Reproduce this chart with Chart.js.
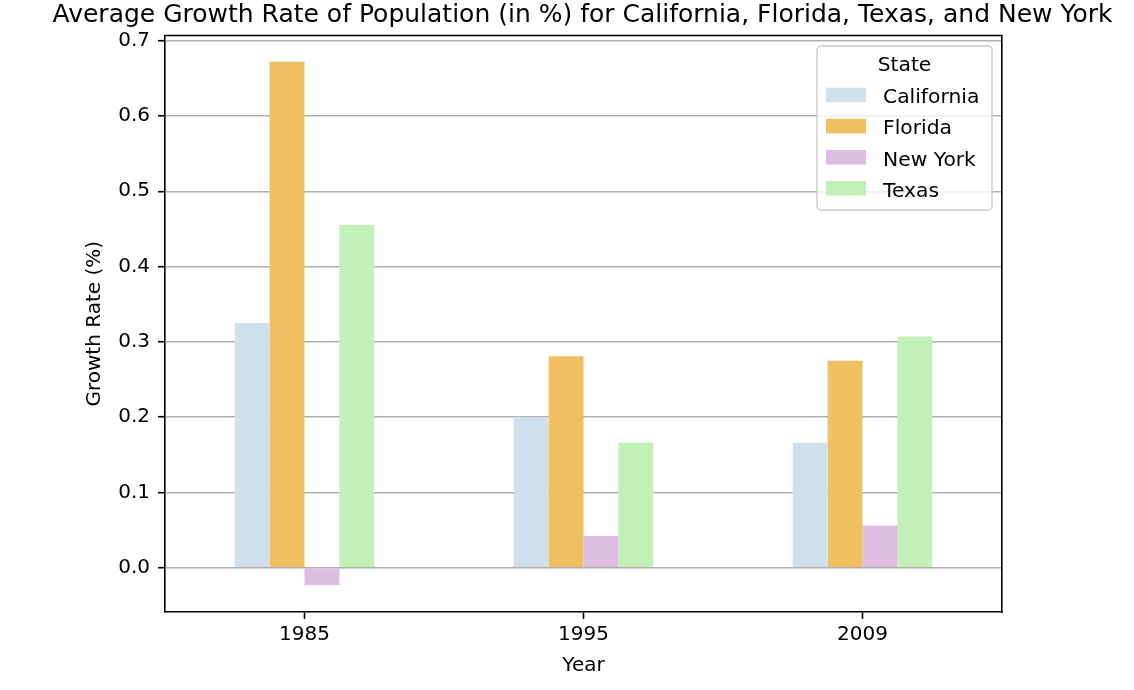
<!DOCTYPE html>
<html>
<head>
<meta charset="utf-8">
<script src="https://cdn.jsdelivr.net/npm/chart.js@4.4.0/dist/chart.umd.min.js"></script>
<style>
html,body{margin:0;padding:0;background:#fff;}
#wrap{width:1134px;height:690px;position:relative;}
</style>
</head>
<body>
<div id="wrap"><canvas id="c" width="1134" height="690"></canvas></div>
<script>
// ---- data ----
const years = ['1985', '1995', '2009'];
const stateNames = ['California', 'Florida', 'New York', 'Texas'];
const california = [0.325, 0.200, 0.166];
const florida = [0.672, 0.281, 0.275];
const newYork = [-0.023, 0.042, 0.056];
const texas = [0.455, 0.166, 0.307];
const yTickValues = [0.0, 0.1, 0.2, 0.3, 0.4, 0.5, 0.6, 0.7];
const chartTitle = 'Average Growth Rate of Population (in %) for California, Florida, Texas, and New York';
const xTitle = 'Year';
const yTitle = 'Growth Rate (%)';
const legendTitle = 'State';

// ---- styles ----
const seriesValues = [california, florida, newYork, texas];
const seriesColors = ['#cde0eb', '#f0bf5f', '#dfbde3', '#c2f1b8'];
const FONT = 'DejaVu Sans';
const font20 = {family: FONT, size: 20};

const datasets = stateNames.map((name, i) => ({
  label: name,
  data: seriesValues[i],
  backgroundColor: seriesColors[i],
  borderWidth: 0,
  categoryPercentage: 0.5,
  barPercentage: 1.0,
  xAxisID: 'x',
  yAxisID: 'y'
}));

const framePlugin = {
  id: 'frameAndLegend',
  afterDraw(chart) {
    const ctx = chart.ctx;
    const a = chart.chartArea;
    ctx.save();
    // top spine
    ctx.strokeStyle = '#000';
    ctx.lineWidth = 1.6;
    ctx.beginPath();
    ctx.moveTo(a.left - 0.8, a.top);
    ctx.lineTo(a.right + 0.8, a.top);
    ctx.stroke();

    // legend
    const bw = 175, bh = 164;
    const bx = a.right - 10 - bw;
    const by = a.top + 10.5;
    const r = 4;
    ctx.beginPath();
    ctx.moveTo(bx + r, by);
    ctx.lineTo(bx + bw - r, by);
    ctx.arcTo(bx + bw, by, bx + bw, by + r, r);
    ctx.lineTo(bx + bw, by + bh - r);
    ctx.arcTo(bx + bw, by + bh, bx + bw - r, by + bh, r);
    ctx.lineTo(bx + r, by + bh);
    ctx.arcTo(bx, by + bh, bx, by + bh - r, r);
    ctx.lineTo(bx, by + r);
    ctx.arcTo(bx, by, bx + r, by, r);
    ctx.closePath();
    ctx.fillStyle = 'rgba(255,255,255,0.8)';
    ctx.fill();
    ctx.strokeStyle = '#cccccc';
    ctx.lineWidth = 1.4;
    ctx.stroke();

    ctx.font = '20.3px "' + FONT + '"';
    ctx.fillStyle = '#000';
    ctx.textBaseline = 'alphabetic';
    ctx.textAlign = 'center';
    ctx.fillText(legendTitle, bx + bw / 2, by + 24.7);
    ctx.textAlign = 'left';
    chart.data.datasets.forEach((ds, i) => {
      const base = by + 57.3 + i * 31.1;
      ctx.fillStyle = ds.backgroundColor;
      ctx.fillRect(bx + 9, base - 15.6, 40, 14.6);
      ctx.fillStyle = '#000';
      ctx.fillText(ds.label, bx + 66, base);
    });
    ctx.restore();
  }
};

new Chart(document.getElementById('c'), {
  type: 'bar',
  data: {labels: years, datasets: datasets},
  plugins: [framePlugin],
  options: {
    responsive: false,
    animation: false,
    devicePixelRatio: 1,
    layout: {padding: {left: 31, right: 0, top: 0, bottom: 0}},
    plugins: {
      legend: {display: false},
      tooltip: {enabled: false},
      title: {
        display: true,
        text: chartTitle,
        color: '#000',
        font: {family: FONT, size: 25, weight: 'normal', lineHeight: 1.05},
        padding: {top: 2, bottom: 7.25}
      }
    },
    scales: {
      x: {
        type: 'category',
        offset: true,
        grid: {display: true, offset: false, drawOnChartArea: false, drawTicks: true, tickLength: 7, tickWidth: 1.6, tickColor: '#000'},
        border: {display: true, color: '#000', width: 1.6},
        ticks: {font: font20, color: '#000', padding: 4, maxRotation: 0, autoSkip: false},
        title: {display: true, text: xTitle, font: font20, color: '#000', padding: {top: 0, bottom: 12}},
        afterFit: s => { s.height = 78; }
      },
      y: {
        position: 'left',
        min: -0.0588,
        max: 0.7068,
        z: 1,
        afterBuildTicks: s => { s.ticks = yTickValues.map(v => ({value: v})); },
        grid: {color: '#b0b0b0', lineWidth: 1.4, drawTicks: true, tickLength: 7, tickWidth: 1.6, tickColor: '#000'},
        border: {display: true, color: '#000', width: 1.6},
        ticks: {font: font20, color: '#000', padding: 8, callback: v => Number(v).toFixed(1)},
        title: {display: true, text: yTitle, font: font20, color: '#000', padding: {top: 52, bottom: 0}},
        afterFit: s => { s.width = 134; }
      },
      y2: {
        position: 'right',
        min: 0,
        max: 1,
        grid: {display: true, drawOnChartArea: false, drawTicks: false},
        border: {display: true, color: '#000', width: 1.6},
        ticks: {display: false},
        afterFit: s => { s.width = 132; }
      }
    }
  }
});
</script>
</body>
</html>
